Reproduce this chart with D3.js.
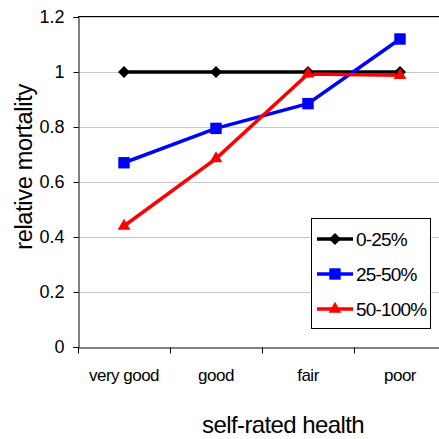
<!DOCTYPE html>
<html>
<head>
<meta charset="utf-8">
<script src="https://cdn.jsdelivr.net/npm/d3@7"></script>
<style>
  body { margin: 0; background: #fff; }
  text { font-family: "Liberation Sans", Arial, sans-serif; fill: #000; }
</style>
</head>
<body>
<svg id="chart" width="439" height="439"></svg>
<script>
// data
const categories = ["very good", "good", "fair", "poor"];
const seriesNames = ["0-25%", "25-50%", "50-100%"];
const low = [1.0, 1.0, 1.0, 1.0];
const mid = [0.67, 0.795, 0.885, 1.12];
const high = [0.44, 0.685, 0.993, 0.988];
const yTicks = [0, 0.2, 0.4, 0.6, 0.8, 1, 1.2];

// diamond as a square turned 45 degrees
const squareDiamond = {
    draw(context, size) {
        const r = Math.sqrt(size / 2);
        context.moveTo(0, -r);
        context.lineTo(r, 0);
        context.lineTo(0, r);
        context.lineTo(-r, 0);
        context.closePath();
    }
};

const series = [
    { name: seriesNames[0], values: low, color: "#000000", symbol: squareDiamond, size: 72 },
    { name: seriesNames[1], values: mid, color: "#0000ff", symbol: d3.symbolSquare, size: 130 },
    { name: seriesNames[2], values: high, color: "#ff0000", symbol: d3.symbolTriangle, size: 70 }
];

const svg = d3.select("#chart");

// scales
const x = d3.scaleBand().domain(categories).range([78, 446]);
const y = d3.scaleLinear().domain([0, 1.2]).range([347, 17]);

// gridlines
svg.append("g")
    .selectAll("line")
    .data(yTicks.filter((d) => d > 0))
    .enter()
    .append("line")
    .attr("x1", 79)
    .attr("x2", 439)
    .attr("y1", (d) => y(d) + 0.5)
    .attr("y2", (d) => y(d) + 0.5)
    .attr("stroke", "#c8c8c8")
    .attr("stroke-width", 1);

// top border
svg.append("line")
    .attr("x1", 78)
    .attr("x2", 439)
    .attr("y1", 16.5)
    .attr("y2", 16.5)
    .attr("stroke", "#000");

// y axis
const yAxis = svg.append("g")
    .attr("transform", "translate(78.5,0)")
    .call(d3.axisLeft(y).tickValues(yTicks).tickSize(5).tickPadding(9).tickFormat((d) => d3.format("")(d)));
yAxis.select(".domain").attr("stroke", "#000");
yAxis.selectAll("text").style("font-size", "18px");

// x axis
const xAxis = svg.append("g")
    .attr("transform", "translate(0,347.5)")
    .call(d3.axisBottom(x).tickSize(0).tickPadding(21));
xAxis.select(".domain").attr("stroke", "#000");
xAxis.selectAll("text").style("font-size", "17px").style("letter-spacing", "-0.5px");
xAxis.selectAll(".boundary")
    .data(d3.range(categories.length))
    .enter()
    .append("line")
    .attr("x1", (d) => Math.round(x(categories[d])) + 0.5)
    .attr("x2", (d) => Math.round(x(categories[d])) + 0.5)
    .attr("y1", 0)
    .attr("y2", 6)
    .attr("stroke", "#000");

// axis titles
svg.append("text")
    .attr("transform", "translate(32,167) rotate(-90)")
    .attr("text-anchor", "middle")
    .style("font-size", "23.5px")
    .style("letter-spacing", "-0.3px")
    .text("relative mortality");

svg.append("text")
    .attr("x", 283)
    .attr("y", 433)
    .attr("text-anchor", "middle")
    .style("font-size", "24px")
    .style("letter-spacing", "-0.6px")
    .text("self-rated health");

// lines
const line = d3.line()
    .x((d, i) => x(categories[i]) + x.bandwidth() / 2)
    .y((d) => y(d));

series.forEach((s) => {
    svg.append("path")
        .datum(s.values)
        .attr("fill", "none")
        .attr("stroke", s.color)
        .attr("stroke-width", 3.5)
        .attr("d", line);
});

series.forEach((s) => {
    svg.append("g")
        .selectAll("path")
        .data(s.values)
        .enter()
        .append("path")
        .attr("transform", (d, i) => `translate(${x(categories[i]) + x.bandwidth() / 2},${y(d)})`)
        .attr("d", d3.symbol().type(s.symbol).size(s.size))
        .attr("fill", s.color);
});

// legend
const legend = svg.append("g").attr("transform", "translate(311,218)");
legend.append("rect")
    .attr("x", 0.5)
    .attr("y", 0.5)
    .attr("width", 119)
    .attr("height", 110)
    .attr("fill", "#fff")
    .attr("stroke", "#000");

const item = legend.selectAll(".legend-item")
    .data(series)
    .enter()
    .append("g")
    .attr("transform", (d, i) => `translate(0,${21 + i * 35})`);

item.append("line")
    .attr("x1", 6)
    .attr("x2", 42)
    .attr("stroke", (d) => d.color)
    .attr("stroke-width", 3.5);

item.append("path")
    .attr("transform", "translate(24,0)")
    .attr("d", (d) => d3.symbol().type(d.symbol).size(d.size)())
    .attr("fill", (d) => d.color);

item.append("text")
    .attr("x", 45)
    .attr("y", 7)
    .style("font-size", "19px")
    .style("letter-spacing", "-0.8px")
    .text((d) => d.name);
</script>
</body>
</html>
